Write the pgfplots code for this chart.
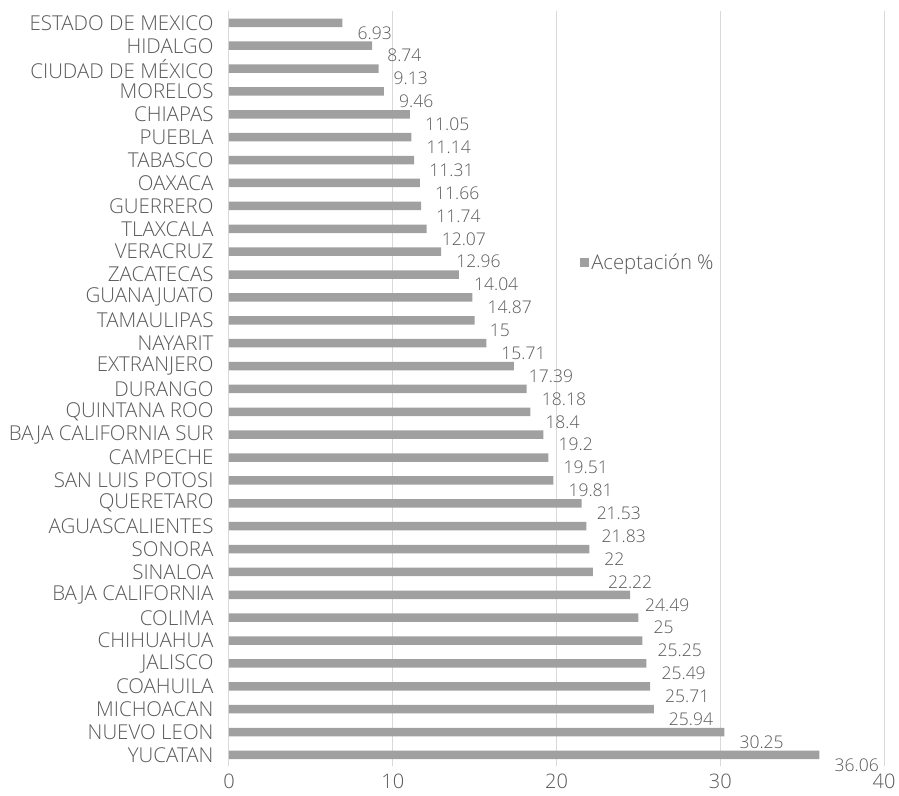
\documentclass[border=0pt]{standalone}
\usepackage{pgfplots}
\usepackage{pgfplotstable}
\pgfplotsset{compat=1.18}
\usepackage{fontspec}
\setmainfont{Open Sans Light}
\definecolor{barc}{HTML}{A0A0A0}
\definecolor{txt}{HTML}{595959}
\definecolor{grd}{HTML}{D9D9D9}
\pgfplotstableread[col sep=comma]{
i,v,l
0,6.93,6.93
1,8.74,8.74
2,9.13,9.13
3,9.46,9.46
4,11.05,11.05
5,11.14,11.14
6,11.31,11.31
7,11.66,11.66
8,11.74,11.74
9,12.07,12.07
10,12.96,12.96
11,14.04,14.04
12,14.87,14.87
13,15,15
14,15.71,15.71
15,17.39,17.39
16,18.18,18.18
17,18.4,18.4
18,19.2,19.2
19,19.51,19.51
20,19.81,19.81
21,21.53,21.53
22,21.83,21.83
23,22,22
24,22.22,22.22
25,24.49,24.49
26,25,25
27,25.25,25.25
28,25.49,25.49
29,25.71,25.71
30,25.94,25.94
31,30.25,30.25
32,36.06,36.06
}\datatab
\begin{document}
\begin{tikzpicture}
\begin{axis}[
  scale only axis,
  width=655pt, height=755pt,
  at={(0pt,0pt)}, anchor=south west,
  xmin=0, xmax=40,
  ymin=-0.5, ymax=32.5,
  y dir=reverse,
  xtick={0,10,20,30,40},
  ytick={0,...,32},
  yticklabels={ESTADO DE MEXICO,HIDALGO,CIUDAD DE MÉXICO,MORELOS,CHIAPAS,PUEBLA,TABASCO,OAXACA,GUERRERO,TLAXCALA,VERACRUZ,ZACATECAS,GUANAJUATO,TAMAULIPAS,NAYARIT,EXTRANJERO,DURANGO,QUINTANA ROO,BAJA CALIFORNIA SUR,CAMPECHE,SAN LUIS POTOSI,QUERETARO,AGUASCALIENTES,SONORA,SINALOA,BAJA CALIFORNIA,COLIMA,CHIHUAHUA,JALISCO,COAHUILA,MICHOACAN,NUEVO LEON,YUCATAN},
  major tick length=0pt,
  axis lines*=left,
  x axis line style={draw=none},
  y axis line style={draw=grd, line width=1pt},
  xmajorgrids,
  grid style={draw=grd, line width=1pt},
  yticklabel style={font=\fontsize{20.5}{23}\selectfont, text=txt, xshift=-12pt},
  xticklabel style={font=\fontsize{20}{22}\selectfont, text=txt, yshift=-4pt},
  /pgf/number format/assume math mode=true,
  legend style={at={(0.536,0.667)}, anchor=west, draw=none, fill=none,
    font=\fontsize{20.3}{22}\selectfont, text=txt, inner sep=0pt},
  legend cell align=left,
  legend image code/.code={\fill[barc] (0pt,-4.5pt) rectangle (9pt,4.5pt);},
]
\addplot[xbar, bar width=8.5pt, bar shift=0pt, fill=barc, draw=none,
  nodes near coords, point meta=explicit symbolic,
  nodes near coords style={anchor=west, inner sep=0pt, xshift=15pt, yshift=-10pt,
    font=\fontsize{17.5}{20}\selectfont, text=txt}]
  table[x=v, y=i, meta=l] {\datatab};
\addlegendentry{Aceptación \%}
\end{axis}
\path[use as bounding box] (-229pt,-28.6pt) rectangle (670pt,766.4pt);
\end{tikzpicture}
\end{document}
